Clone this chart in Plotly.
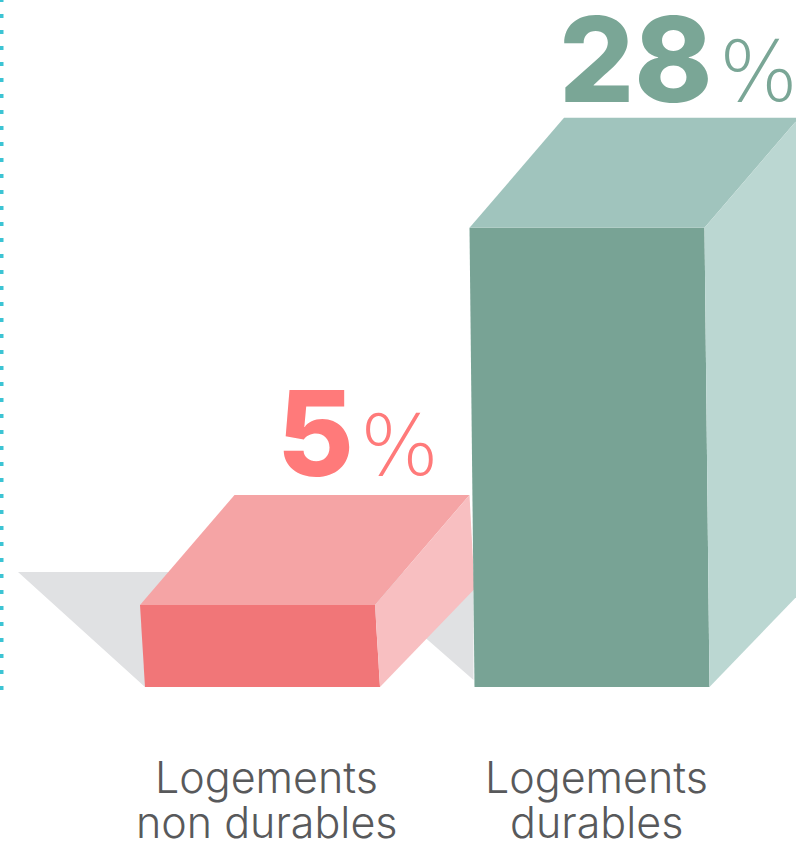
import plotly.graph_objects as go

# ---------------- data ----------------
categories = ["Logements<br>non durables", "Logements<br>durables"]
values = [5, 28]
value_labels = ["5", "28"]
unit_label = "%"

# ---------------- style ----------------
W, H = 796, 846
PX_PER_UNIT_X = 329.5      # pixels per category step
PX_PER_PCT = 16.4          # pixels per percentage point
X0_PX = 257.5              # pixel of category position 0
BASE_PX = 687              # pixel of 0 %

FRONT = ["#F17678", "#78A395"]
TOP = ["#F5A4A5", "#A0C4BD"]
SIDE = ["#F8BFC1", "#BBD7D2"]
TEXT = ["#FF7A7A", "#7AA696"]
SHADOW = "#E0E1E3"
DOTS = "#3CC4D4"
LABEL_COLOR = "#58595B"
FONT = "Inter"
PCT_FONT = "DejaVu Sans"
NUM_SIZE = 118
PCT_SIZE = 83
LABEL_SIZE = 43


def ux(px):
    return px / PX_PER_UNIT_X


def uy(px):
    return px / PX_PER_PCT


HALF_W = ux(117.5)
SKEW = ux(5)
DEPTH_X = ux(94.5)
DEPTH_Y = uy(110)
SIDE_BOTTOM_Y = uy(98)

VALUE_GAP_DX_PX = [97, 127]   # gap between number and % relative to bar centre
VALUE_BASE_DY_PX = [20, 16]   # baseline above back edge of top face

x_range = [ux(0 - X0_PX), ux(W - X0_PX)]
y_range = [uy(BASE_PX - H), uy(BASE_PX)]

fig = go.Figure()


def poly(xs, ys, color):
    fig.add_trace(go.Scatter(
        x=list(xs) + [xs[0]], y=list(ys) + [ys[0]],
        mode="lines", fill="toself", fillcolor=color,
        line=dict(width=0, color=color), hoverinfo="skip", showlegend=False,
    ))


positions = list(range(len(categories)))

# shadow behind the small bar
p0 = positions[0]
p1 = positions[1]
L = p0 - HALF_W + SKEW
G = p1 - HALF_W + SKEW - ux(1)
poly([L, L - ux(127), G, G, G - ux(73)],
     [0, uy(115), uy(115), uy(7), uy(71)], SHADOW)

# bars
for i, (p, v) in enumerate(zip(positions, values)):
    xl, xr = p - HALF_W, p + HALF_W
    poly([xl, xr, xr + SKEW, xl + SKEW], [v, v, 0, 0], FRONT[i])
    poly([xl, xr, xr + DEPTH_X, xl + DEPTH_X], [v, v, v + DEPTH_Y, v + DEPTH_Y], TOP[i])
    poly([xr, xr + DEPTH_X, xr + SKEW + DEPTH_X, xr + SKEW],
         [v, v + DEPTH_Y, SIDE_BOTTOM_Y, 0], SIDE[i])

annotations = []
for i, (p, v) in enumerate(zip(positions, values)):
    gap = p + ux(VALUE_GAP_DX_PX[i])
    base = v + DEPTH_Y + uy(VALUE_BASE_DY_PX[i])
    annotations.append(dict(
        x=gap + ux(1), y=base, xref="x", yref="y",
        text=value_labels[i], showarrow=False, xanchor="right", yanchor="middle",
        yshift=0.36 * NUM_SIZE,
        font=dict(family=FONT, size=NUM_SIZE, color=TEXT[i], weight=800),
    ))
    annotations.append(dict(
        x=gap + ux(3), y=base, xref="x", yref="y",
        text=unit_label, showarrow=False, xanchor="left", yanchor="middle",
        yshift=0.36 * PCT_SIZE - 1,
        font=dict(family=PCT_FONT, size=PCT_SIZE, color=TEXT[i], weight=200),
    ))
    lines = categories[i].split("<br>")
    for j, line in enumerate(lines):
        annotations.append(dict(
            x=p + ux(9), y=uy(BASE_PX - 777 - 45 * j), xref="x", yref="y",
            text=line, showarrow=False, xanchor="center", yanchor="middle",
            font=dict(family=FONT, size=LABEL_SIZE, color=LABEL_COLOR, weight=300),
        ))

fig.update_layout(
    width=W, height=H,
    margin=dict(l=0, r=0, t=0, b=0),
    paper_bgcolor="white", plot_bgcolor="white",
    xaxis=dict(range=x_range, visible=False, fixedrange=True),
    yaxis=dict(range=y_range, visible=False, fixedrange=True),
    annotations=annotations,
    shapes=[dict(
        type="line", xref="x", yref="y",
        x0=ux(1.5 - X0_PX), x1=ux(1.5 - X0_PX),
        y0=uy(BASE_PX - 690), y1=uy(BASE_PX - 0),
        line=dict(color=DOTS, width=4, dash="4px,12px"),
    )],
)

fig.write_html("out.html", config={"displayModeBar": False},
               post_script="document.body.style.margin='0px';document.body.style.overflow='hidden';")
